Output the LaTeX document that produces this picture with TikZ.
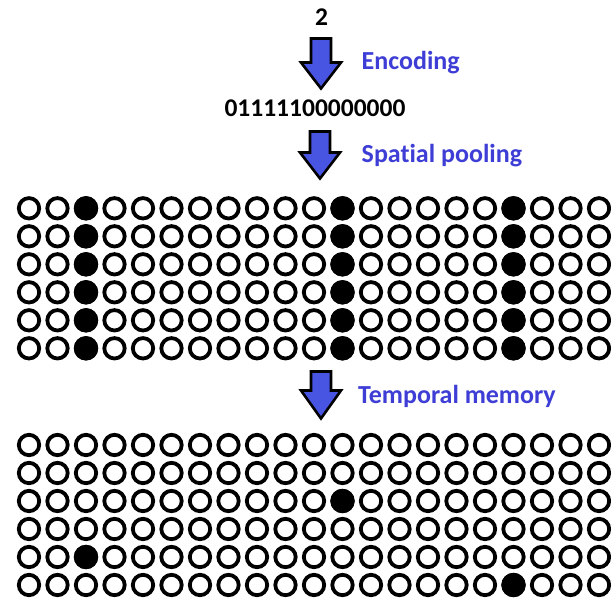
\documentclass[tikz,border=0pt]{standalone}
\usepackage{fontspec}
\setmainfont{Carlito}[Ligatures=NoCommon]
\definecolor{labelblue}{RGB}{62,62,214}
\definecolor{arrowblue}{RGB}{72,84,226}
\tikzset{
  cell/.style={circle, draw=black, line width=3.8pt, minimum size=20.4pt, inner sep=0pt},
  oncell/.style={circle, fill=black, minimum size=24.4pt, inner sep=0pt},
  caption/.style={text=labelblue, font=\bfseries\fontsize{26}{31}\selectfont, anchor=base west, inner sep=0pt},
  value/.style={text=black, font=\bfseries\fontsize{25.5}{30}\selectfont, anchor=base, inner sep=0pt},
  blockarrow/.style={fill=arrowblue, draw=black, line width=2.6pt, line join=miter},
  pics/downarrow/.style args={#1/#2}{code={
    % shaft half width 10, head half width 20; #1 = shoulder depth, #2 = tip depth
    \path[blockarrow] (-10,0) -- (10,0) -- (10,#1) -- (20,#1) -- (0,#2)
      -- (-20,#1) -- (-10,#1) -- cycle;
  }}
}
\begin{document}
\begin{tikzpicture}[x=1pt, y=-1pt]
  \useasboundingbox[fill=white] (0,0) rectangle (611,598);

  % input value and its encoding
  \node[value] (input) at (321.5,25) {2};
  \node[value] (sdr) at (315,116.5) {01111100000000};

  % step arrows with their captions
  \pic (arrowA) at (321,38.5) {downarrow=24/50};
  \node[caption] (encoding) at (361.5,69.5) {Encoding};
  \pic (arrowB) at (320,131.5) {downarrow=21/47};
  \node[caption] (pooling) at (361.5,162.5) {Spatial pooling};
  \pic (arrowC) at (321,371.5) {downarrow=19/47};
  \node[caption] (memory) at (358,403.5) {Temporal memory};

  % spatial pooler columns: 6 cells by 21 columns
  \foreach \r in {0,...,5} {
    \foreach \c in {0,...,20} {
      \node[cell] (sp-\r-\c) at ({29+28.5*\c},{208.3+28*\r}) {};
    }
  }
  \foreach \r in {0,...,5} {
    \foreach \c in {2,11,17} {
      \node[oncell] (spon-\r-\c) at (sp-\r-\c) {};
    }
  }

  % temporal memory cells
  \foreach \r in {0,...,5} {
    \foreach \c in {0,...,20} {
      \node[cell] (tm-\r-\c) at ({29+28.5*\c},{445+28*\r}) {};
    }
  }
  \foreach \r/\c in {2/11, 4/2, 5/17} {
    \node[oncell] (tmon-\r-\c) at (tm-\r-\c) {};
  }
\end{tikzpicture}
\end{document}
